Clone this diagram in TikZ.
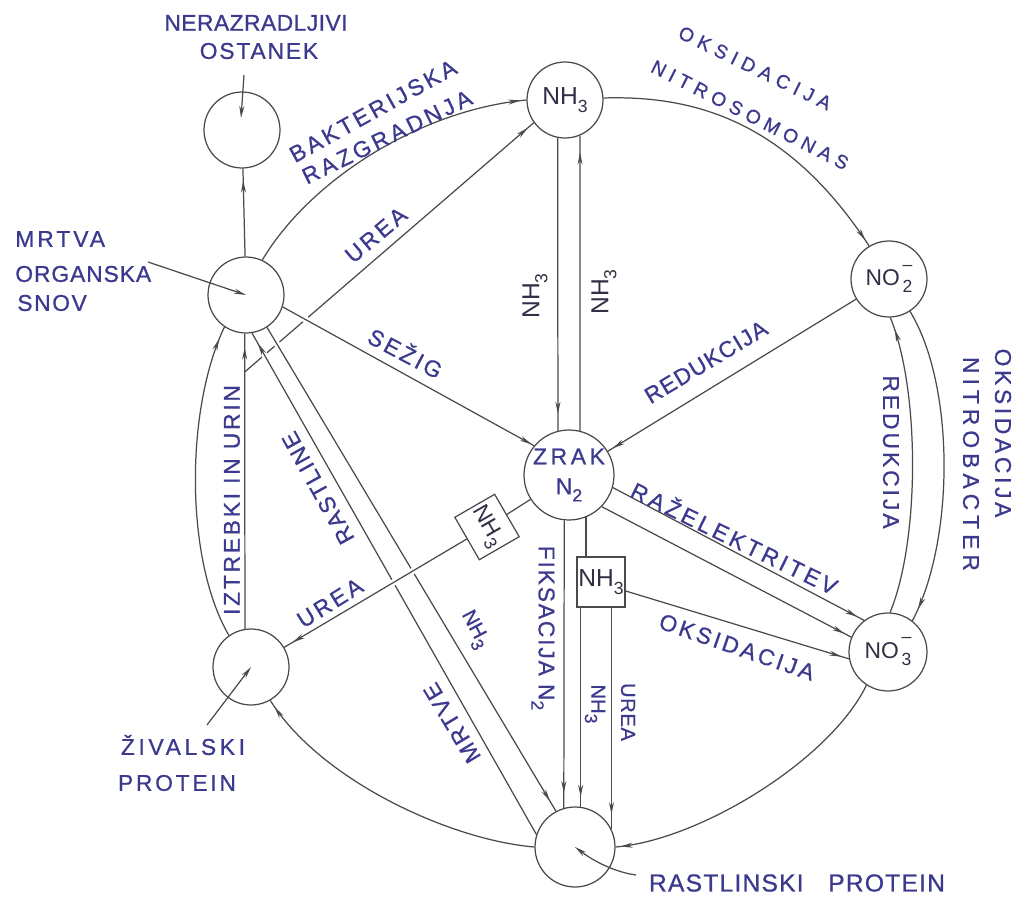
\documentclass[tikz,border=0pt]{standalone}
\usepackage{fontspec}
\setmainfont{Liberation Sans}
\newfontfamily\hand[FakeBold=0.8]{Liberation Sans}
\usetikzlibrary{arrows.meta,decorations.markings,calc}
\definecolor{ink}{HTML}{3C3A8E}
\definecolor{ln}{HTML}{4A4A4A}
\definecolor{stencil}{HTML}{2F2F45}
\newcommand\lsp[1]{\addfontfeature{LetterSpace=#1}}
\newcommand\subx[1]{\raisebox{-0.6ex}{\fontsize{10}{10}\selectfont #1}}
\newcommand\ionx[1]{NO\rlap{\raisebox{1.3ex}{\fontsize{10}{10}\selectfont\,\textendash}}\subx{\,#1}}
\begin{document}
\begin{tikzpicture}[x=0.02cm, y=-0.02cm,
  circ/.style={circle, draw=ln, line width=0.7pt, minimum size=1.52cm, inner sep=0pt},
  boxn/.style={draw=ln, line width=0.7pt, inner sep=0pt, text=stencil, font=\rmfamily\fontsize{13}{15}\selectfont},
  con/.style={draw=ln, line width=0.7pt},
  arr/.style={postaction={decorate}, decoration={markings, mark=at position -#1 with {\arrow[ln]{Stealth[length=0.24cm,width=0.1cm]}}}},
  arr/.default=0.1cm,
  under/.style={preaction={draw=white, line width=3.5pt, shorten <=0.2cm, shorten >=0.2cm}},
  lab/.style={text=ink, inner sep=0pt, font=\hand\fontsize{13}{15}\selectfont},
  labs/.style={text=ink, inner sep=0pt, font=\hand\fontsize{11.5}{13}\selectfont},
  stn/.style={text=stencil, inner sep=0pt, font=\rmfamily\fontsize{14}{16}\selectfont}]
\fill[white] (0,0) rectangle (1019,900);
\useasboundingbox (0,0) rectangle (1019,900);

% ---- nodes
\node[circ] (ner) at (242,130) {};
\node[circ] (mrtva) at (246,295) {};
\node[circ, stn] (nh3c) at (565,100) {NH\subx{3}};
\node[circ, stn, font=\rmfamily\fontsize{13}{15}\selectfont] (no2) at (889,279) {\ionx{2}};
\node[circ, text=ink, font=\hand\fontsize{13}{17}\selectfont, align=center, minimum size=1.8cm] (zrak) at (569,475) {\lsp{16}ZRAK\\\lsp{10}N\subx{2}};
\node[circ, stn, font=\rmfamily\fontsize{13}{15}\selectfont, minimum size=1.56cm] (no3) at (888,652) {\ionx{3}};
\node[circ] (zival) at (251,667) {};
\node[circ, minimum size=1.6cm] (rast) at (575,847) {};
\node[boxn, rotate=-60, minimum width=0.98cm, minimum height=0.92cm] (box1) at (487,527) {NH\subx{3}};
\node[boxn, font=\rmfamily\fontsize{14}{16}\selectfont, minimum width=0.96cm, minimum height=1.0cm] (box2) at (601,582) {NH\subx{3}};

\coordinate (ureastart) at ($(zival.99)!0.87!(mrtva.-92)$);
\coordinate (lnerA) at (244,75);
\coordinate (lnerB) at ($(ner.center)+(-1,-12)$);
\coordinate (lmrtA) at (148,262);
\coordinate (lzivA) at (207,725);
\coordinate (lrastA) at (636,875);

% ---- connectors (layered for crossings)
\draw[con, arr=0.16cm] (ureastart) -- (nh3c.-144);
\draw[con, under, arr=0.24cm] (rast.162) -- (mrtva.-81);
\draw[con, under, arr=0.24cm] (mrtva.-57) -- (rast.118);
\draw[con, under, arr=0.06cm] (mrtva.-18) -- (zrak.140);
\draw[con] (zrak) -- (box1);
\draw[con, under, arr=0.2cm] (box1) -- (zival);

\draw[con, arr=0.24cm] (mrtva) -- (ner);
\draw[con, -{Stealth[length=0.24cm,width=0.1cm]}] (lnerA) -- (lnerB);
\draw[con, -{Stealth[length=0.24cm,width=0.1cm]}] (lmrtA) -- (mrtva.center);
\draw[con, -{Stealth[length=0.24cm,width=0.1cm]}] (lzivA) -- (zival.center);
\draw[con, -{Stealth[length=0.24cm,width=0.1cm]}] (lrastA) .. controls (615,872) and (595,862) .. (rast.center);

\draw[con, arr=0.12cm] (mrtva.65) .. controls (310,180) and (420,110) .. (nh3c.180);
\draw[con, arr=0.14cm] (nh3c.3) .. controls (700,95) and (790,125) .. (no2.121);
\draw[con, arr=0.34cm] (nh3c.-101) -- (zrak.104);
\draw[con, arr=0.34cm] (zrak.76) -- (nh3c.-67);
\draw[con, arr=0.12cm] (no2) -- (zrak);
\draw[con, arr=0.26cm] (no2.-57) .. controls (955,385) and (955,540) .. (no3.52);
\draw[con, arr=0.26cm] (no3.87) .. controls (920,540) and (920,390) .. (no2.-88);
\draw[con, arr=0.1cm] (no3.-123) .. controls (830,760) and (700,840) .. (rast.0);
\draw[con, arr=0.16cm] (rast.180) .. controls (450,840) and (320,780) .. (zival.-60);
\draw[con, arr=0.26cm] (zival.125) .. controls (185,560) and (185,410) .. (mrtva.-124);
\draw[con, arr=0.28cm] (zival.99) -- (mrtva.-92);
\draw[con, arr=0.3cm] (zrak.-96) -- (rast.106);
\draw[con] (zrak.-68) -- (zrak.-68 |- box2.north);
\draw[con, arr=0.2cm] (box2.south -| rast.82) -- (rast.82);
\draw[con, arr=0.3cm] (box2.south -| rast.26) -- (rast.26);
\draw[con, arr=0.16cm] (box2.-20) -- (no3.190);
\draw[con, arr=0.16cm] (zrak.-16) -- (no3.127);
\draw[con, arr=0.16cm] (zrak.-44) -- (no3.158);

% ---- labels
\node[lab] (tNer) at (256,23) {\lsp{2}NERAZRADLJIVI};
\node[lab] (tOst) at (259,51) {\lsp{8}OSTANEK};
\node[lab, anchor=west] (tMrt1) at (15,239) {\lsp{13}MRTVA};
\node[lab, anchor=west] (tMrt2) at (15,274) {\lsp{4}ORGANSKA};
\node[lab, anchor=west] (tMrt3) at (17,303) {\lsp{7}SNOV};
\node[lab, rotate=29] (tBak1) at (373,111) {\lsp{14}BAKTERIJSKA};
\node[lab, rotate=26] (tBak2) at (387,137) {\lsp{15}RAZGRADNJA};
\node[lab, rotate=40] (tUrea1) at (376,235) {\lsp{13}UREA};
\node[lab, font=\hand\fontsize{11}{13}\selectfont, rotate=-26] (tOks1) at (755,68) {\lsp{30}OKSIDACIJA};
\node[lab, font=\hand\fontsize{11}{13}\selectfont, rotate=-27] (tNitro) at (750,115) {\lsp{28}NITROSOMONAS};
\node[stn, rotate=90] (tNHa) at (535,296) {NH\subx{3}};
\node[stn, rotate=90] (tNHb) at (604,292) {NH\subx{3}};
\node[lab, rotate=31] (tRed1) at (706,362) {\lsp{5}REDUKCIJA};
\node[lab, rotate=-90] (tRed2) at (891,452) {\lsp{13}REDUKCIJA};
\node[lab, rotate=-90] (tOks2) at (1003,433) {\lsp{16}OKSIDACIJA};
\node[lab, rotate=-90] (tNitb) at (971,464) {\lsp{22}NITROBACTER};
\node[lab, rotate=-26] (tRaz) at (735,537) {\lsp{15}RAŽELEKTRITEV};
\node[lab, rotate=-19] (tOks3) at (737,647) {\lsp{13}OKSIDACIJA};
\node[lab, rotate=-28] (tSez) at (406,352) {\lsp{13}SEŽIG};
\node[lab, rotate=90] (tIzt) at (232,500) {\lsp{12}IZTREBKI IN URIN};
\node[lab, rotate=119] (tRas) at (318,488) {\lsp{8}RASTLINE};
\node[lab, rotate=32] (tUrea2) at (330,603) {\lsp{13}UREA};
\node[labs, rotate=-62] (tNHc) at (474,630) {NH\subx{3}};
\node[lab, rotate=121] (tMrtve) at (452,723) {\lsp{10}MRTVE};
\node[lab, rotate=-90] (tFiks) at (543,628) {\lsp{8}FIKSACIJA N\subx{2}};
\node[labs, rotate=-90] (tNHd) at (595,704) {NH\subx{3}};
\node[labs, rotate=-90] (tUrea3) at (628,712) {\lsp{3}UREA};
\node[lab] (tZiv1) at (183,745) {\lsp{16}ŽIVALSKI};
\node[lab] (tZiv2) at (177,783) {\lsp{12}PROTEIN};
\node[lab, font=\hand\fontsize{14}{16}\selectfont] (tRast) at (797,883) {\lsp{5}RASTLINSKI\hspace{1em}PROTEIN};
\end{tikzpicture}
\end{document}
